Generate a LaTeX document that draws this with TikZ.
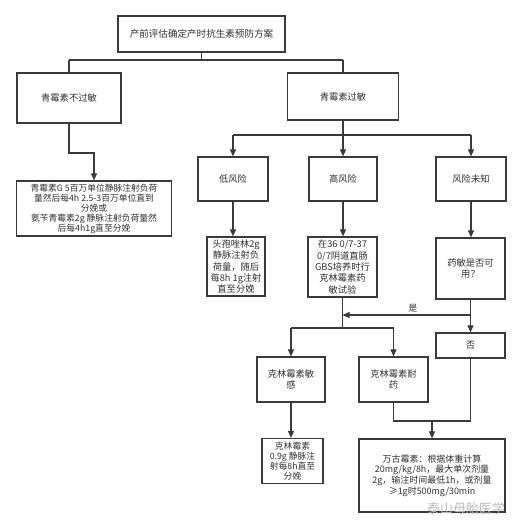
\documentclass[tikz,border=0pt]{standalone}
\usepackage{fontspec}
\newfontfamily\cjk{Noto Sans CJK SC}
\usetikzlibrary{arrows.meta}
\definecolor{ln}{HTML}{3A3A3A}
\definecolor{tx}{HTML}{303030}
\tikzset{
  box/.style={draw=ln, line width=1.2bp, fill=white, inner sep=0pt, align=center,
    text=tx, font=\cjk\fontsize{9.3}{11.5}\selectfont},
  tight/.style={font=\cjk\fontsize{8.8}{10}\selectfont},
  conn/.style={draw=ln, line width=1.1bp},
  arr/.style={conn, -{Triangle[length=7bp,width=6bp]}},
  lbl/.style={text=tx, font=\cjk\fontsize{9}{10}\selectfont, inner sep=1bp},
  wm/.style={text=gray!55, font=\cjk\fontsize{13}{14}\selectfont, inner sep=0pt}
}
\begin{document}
\begin{tikzpicture}[x=1bp,y=-1bp]
\useasboundingbox[fill=white] (0,0) rectangle (522,529);
% nodes
\node[box, minimum width=167bp, minimum height=36bp, font=\cjk\fontsize{9.6}{11}\selectfont] (top) at (201.5,34) {产前评估确定产时抗生素预防方案};
\node[box, minimum width=104bp, minimum height=50bp] (nopen) at (69,98) {青霉素不过敏};
\node[box, minimum width=111bp, minimum height=47bp] (pen) at (343,96.5) {青霉素过敏};
\node[box, tight, minimum width=155bp, minimum height=55bp] (pg) at (94,208.5) {青霉素G 5百万单位静脉注射负荷\\量然后每4h 2.5-3百万单位直到\\分娩或\\氨苄青霉素2g 静脉注射负荷量然\\后每4h1g直至分娩};
\node[box, minimum width=70bp, minimum height=44bp] (low) at (233,179) {低风险};
\node[box, minimum width=68bp, minimum height=44bp] (high) at (343,179) {高风险};
\node[box, minimum width=70bp, minimum height=44bp] (unk) at (471,179) {风险未知};
\node[box, minimum width=58bp, minimum height=59bp] (cef) at (236,266.5) {头孢唑林2g\\静脉注射负\\荷量，随后\\每8h 1g注射\\直至分娩};
\node[box, minimum width=69bp, minimum height=60bp] (hi2) at (342.5,267) {在36 0/7-37\\0/7阴道直肠\\GBS培养时行\\克林霉素药\\敏试验};
\node[box, minimum width=69bp, minimum height=61bp] (sens) at (470.5,268.5) {药敏是否可\\用？};
\node[box, minimum width=69bp, minimum height=25bp] (no) at (470.5,345.5) {否};
\node[box, minimum width=68bp, minimum height=45bp] (cs) at (291,379.5) {克林霉素敏\\感};
\node[box, minimum width=69bp, minimum height=45bp] (cr) at (393.5,379.5) {克林霉素耐\\药};
\node[box, tight, minimum width=61bp, minimum height=45bp] (clin) at (292.5,461) {克林霉素\\0.9g 静脉注\\射每8h直至\\分娩};
\node[box, minimum width=146bp, minimum height=73bp, font=\cjk\fontsize{9}{10.8}\selectfont] (vanc) at (432,475.5) {万古霉素：根据体重计算\\20mg/kg/8h，最大单次剂量\\2g，输注时间最低1h，或剂量\\≥1g时500mg/30min};
% junction coordinates
\coordinate (tj) at (0,60);
\coordinate (lj) at (0,153);
\coordinate (pj) at (0,135);
\coordinate (hj) at (0,328);
\coordinate (yj) at (0,315);
\coordinate (rj) at (0,421);
% connectors
\draw[conn] (top.south) -- (top.south |- tj);
\draw[conn] (nopen.north |- tj) -- (pen.north |- tj);
\draw[conn] (nopen.north |- tj) -- (nopen.north);
\draw[conn] (pen.north |- tj) -- (pen.north);
\draw[arr] (nopen.south) -- (nopen.south |- lj) -- (pg.north |- lj) -- (pg.north);
\draw[conn] (pen.south) -- (pen.south |- pj);
\draw[conn] (low.north |- pj) -- (unk.north |- pj);
\draw[arr] (low.north |- pj) -- (low.north);
\draw[arr] (high.north |- pj) -- (high.north);
\draw[arr] (unk.north |- pj) -- (unk.north);
\draw[arr] (low.south) -- (low.south |- cef.north);
\draw[arr] (high.south) -- (high.south |- hi2.north);
\draw[arr] (unk.south) -- (unk.south |- sens.north);
\draw[conn] (hi2.south) -- (hi2.south |- hj);
\draw[conn] (cs.north |- hj) -- (cr.north |- hj);
\draw[arr] (cs.north |- hj) -- (cs.north);
\draw[arr] (cr.north |- hj) -- (cr.north);
\draw[arr] (sens.south |- yj) -- (hi2.south |- yj) node[lbl, pos=0.45, above=1bp] {是};
\draw[arr] (sens.south) -- (no.north);
\draw[arr] (cs.south) -- (cs.south |- clin.north);
\draw[conn] (cr.south) -- (cr.south |- rj) -- (no.south |- rj) -- (no.south);
\draw[arr] (vanc.north |- rj) -- (vanc.north);
% watermark
\node[wm] (wmark) at (466,509) {泰山母胎医学};
\end{tikzpicture}
\end{document}
